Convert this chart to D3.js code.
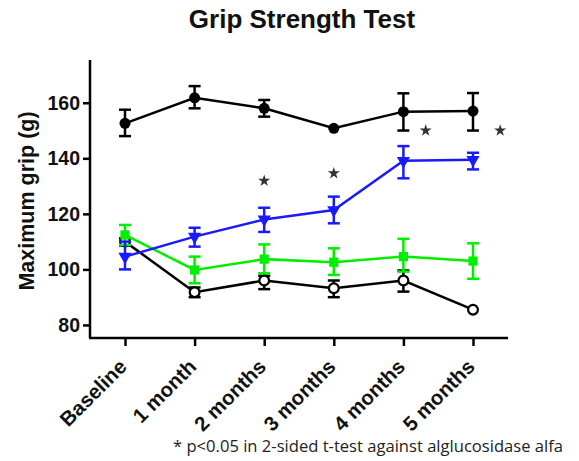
<!DOCTYPE html>
<html>
<head>
<meta charset="utf-8">
<script src="https://cdn.jsdelivr.net/npm/d3@7"></script>
<style>
  html, body { margin: 0; padding: 0; background: #fff; }
  svg { display: block; font-family: "Liberation Sans", Arial, sans-serif; }
</style>
</head>
<body>
<svg id="chart" width="579" height="461"></svg>
<script>
// Time points
const categories = ["Baseline", "1 month", "2 months", "3 months", "4 months", "5 months"];

// Group means (g) and SEM bounds
const blackFilledMean = [152.6, 161.8, 158.0, 150.8, 156.8, 157.0];
const blackFilledLow  = [148.0, 158.0, 155.0, null, 150.0, 150.0];
const blackFilledHigh = [157.5, 166.0, 161.0, null, 163.4, 163.5];

const blueMean = [104.6, 111.8, 118.0, 121.4, 139.1, 139.5];
const blueLow  = [100.0, 108.2, 113.5, 116.6, 132.8, 136.0];
const blueHigh = [110.0, 115.0, 122.2, 126.2, 144.4, 142.0];

const greenMean = [112.4, 99.8, 103.7, 102.6, 104.6, 103.0];
const greenLow  = [108.8, 95.0, 98.6, 98.0, 99.2, 96.6];
const greenHigh = [116.0, 104.6, 109.0, 107.6, 111.0, 109.4];

const blackOpenMean = [110.0, 91.8, 96.0, 93.2, 96.0, 85.5];
const blackOpenLow  = [108.6, 90.0, 92.9, 90.0, 92.0, null];
const blackOpenHigh = [111.2, 93.5, 97.7, 96.0, 99.6, null];

// Significance markers: position along the time axis (index) and height (g)
const starIndex = [2, 3, 4.32, 5.39];
const starValue = [131.9, 134.6, 150.0, 150.0];

const yTicks = [80, 100, 120, 140, 160];

const svg = d3.select("#chart");
const plotLeft = 90, plotRight = 508, plotTop = 60, plotBottom = 338;

const x = d3.scalePoint().domain(categories).range([125, 473]);
const xi = d3.scaleLinear().domain([0, categories.length - 1]).range([125, 473]);
const y = d3.scaleLinear().domain([75.3, 175.4]).range([plotBottom, plotTop]);

// Title
svg.append("text")
  .attr("x", 302).attr("y", 28)
  .attr("text-anchor", "middle")
  .attr("font-size", 26).attr("font-weight", "bold")
  .attr("fill", "#111")
  .text("Grip Strength Test");

// Y axis
const yAxis = svg.append("g")
  .attr("transform", `translate(${plotLeft},0)`)
  .call(d3.axisLeft(y).tickValues(yTicks).tickSize(7).tickPadding(3));
yAxis.select(".domain").attr("d", `M-0,${plotTop}V${plotBottom}`).attr("stroke-width", 2.5);
yAxis.selectAll(".tick line").attr("stroke-width", 2.5);
yAxis.selectAll(".tick text")
  .attr("font-size", 19.5).attr("font-weight", "bold")
  .attr("font-family", "Liberation Sans, Arial, sans-serif").attr("fill", "#111");

// X axis
const xAxis = svg.append("g")
  .attr("transform", `translate(0,${plotBottom})`)
  .call(d3.axisBottom(x).tickSize(8).tickFormat(""));
xAxis.select(".domain").attr("d", `M${plotLeft - 1},0H${plotRight}`).attr("stroke-width", 2.5);
xAxis.selectAll(".tick line").attr("stroke-width", 2.5);

// Rotated time labels
svg.append("g").selectAll("text")
  .data(categories)
  .join("text")
  .attr("transform", d => `translate(${x(d) + 3},${plotBottom + 30}) rotate(-45)`)
  .attr("text-anchor", "end")
  .attr("font-size", 20.5).attr("font-weight", "bold")
  .attr("fill", "#111")
  .text(d => d);

// Y axis title
svg.append("text")
  .attr("transform", `translate(34,${(plotTop + plotBottom) / 2 + 2}) rotate(-90)`)
  .attr("text-anchor", "middle")
  .attr("font-size", 21.5).attr("font-weight", "bold")
  .attr("fill", "#111")
  .text("Maximum grip (g)");

// Series
const series = [
  { mean: blackFilledMean, low: blackFilledLow, high: blackFilledHigh, color: "#000000", marker: "filledCircle" },
  { mean: blackOpenMean, low: blackOpenLow, high: blackOpenHigh, color: "#000000", marker: "openCircle" },
  { mean: greenMean, low: greenLow, high: greenHigh, color: "#00ee00", marker: "square" },
  { mean: blueMean, low: blueLow, high: blueHigh, color: "#1a1aff", marker: "triangleDown" }
];

const line = d3.line().x((d, i) => x(categories[i])).y(d => y(d));
const capHalf = 6;

series.forEach(s => {
  const g = svg.append("g");
  g.append("path")
    .attr("d", line(s.mean))
    .attr("fill", "none").attr("stroke", s.color).attr("stroke-width", 2.5);

  // Error bars
  const pts = s.mean.map((m, i) => ({ cx: x(categories[i]), m, lo: s.low[i], hi: s.high[i] }))
    .filter(p => p.lo != null);
  const eb = g.append("g").attr("stroke", s.color).attr("stroke-width", 2.5);
  eb.selectAll("line.v").data(pts).join("line")
    .attr("x1", p => p.cx).attr("x2", p => p.cx)
    .attr("y1", p => y(p.lo)).attr("y2", p => y(p.hi));
  eb.selectAll("line.lo").data(pts).join("line")
    .attr("x1", p => p.cx - capHalf).attr("x2", p => p.cx + capHalf)
    .attr("y1", p => y(p.lo)).attr("y2", p => y(p.lo));
  eb.selectAll("line.hi").data(pts).join("line")
    .attr("x1", p => p.cx - capHalf).attr("x2", p => p.cx + capHalf)
    .attr("y1", p => y(p.hi)).attr("y2", p => y(p.hi));

  // Markers
  const mk = g.selectAll("path.mk").data(s.mean).join("path")
    .attr("transform", (d, i) => `translate(${x(categories[i])},${y(d)})`);
  if (s.marker === "filledCircle") {
    mk.attr("d", d3.symbol(d3.symbolCircle, 95)).attr("fill", s.color);
  } else if (s.marker === "openCircle") {
    mk.attr("d", d3.symbol(d3.symbolCircle, 75)).attr("fill", "#fff")
      .attr("stroke", s.color).attr("stroke-width", 2.2);
  } else if (s.marker === "square") {
    mk.attr("d", d3.symbol(d3.symbolSquare, 85)).attr("fill", s.color);
  } else {
    mk.attr("d", d3.symbol(d3.symbolTriangle, 75)).attr("fill", s.color)
      .attr("transform", (d, i) => `translate(${x(categories[i])},${y(d)}) rotate(180)`);
  }
});

// Significance stars
svg.append("g").selectAll("path")
  .data(starIndex)
  .join("path")
  .attr("d", d3.symbol(d3.symbolStar, 45))
  .attr("transform", (d, i) => `translate(${xi(d)},${y(starValue[i])})`)
  .attr("fill", "#333");

// Footnote
svg.append("text")
  .attr("x", 173).attr("y", 452)
  .attr("font-family", "Open Sans, sans-serif")
  .attr("font-size", 15.5)
  .attr("textLength", 390)
  .attr("lengthAdjust", "spacingAndGlyphs")
  .attr("fill", "#222")
  .text("* p<0.05 in 2-sided t-test against alglucosidase alfa");
</script>
</body>
</html>
